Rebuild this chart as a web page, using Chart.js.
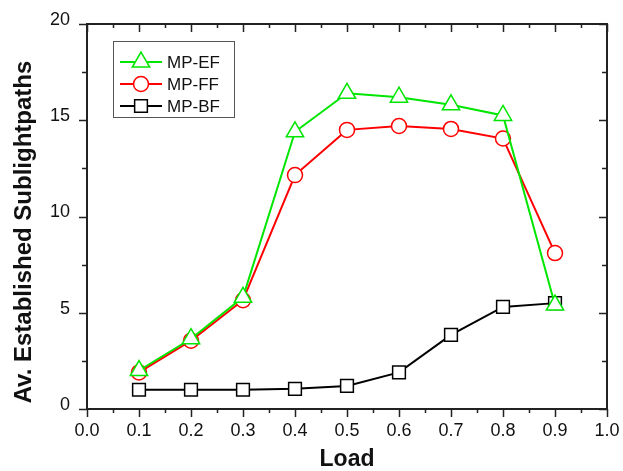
<!DOCTYPE html>
<html>
<head>
<meta charset="utf-8">
<script src="https://cdn.jsdelivr.net/npm/chart.js@4.4.0/dist/chart.umd.min.js"></script>
<style>
  html, body { margin: 0; padding: 0; background: #fff; }
  #wrap { width: 623px; height: 471px; }
</style>
</head>
<body>
<div id="wrap"><canvas id="chart" width="623" height="471"></canvas></div>
<script>
// values
var loads = [0.1, 0.2, 0.3, 0.4, 0.5, 0.6, 0.7, 0.8, 0.9];
var mpEF = [2.0, 3.65, 5.8, 14.4, 16.4, 16.2, 15.8, 15.25, 5.4];
var mpFF = [1.9, 3.55, 5.65, 12.15, 14.5, 14.7, 14.55, 14.05, 8.1];
var mpBF = [1.0, 1.0, 1.0, 1.05, 1.2, 1.9, 3.85, 5.3, 5.5];
var seriesNames = ["MP-EF", "MP-FF", "MP-BF"];
var xTicks = [0, 0.1, 0.2, 0.3, 0.4, 0.5, 0.6, 0.7, 0.8, 0.9, 1.0];
var yTicks = [0, 5, 10, 15, 20];

var axisColor = "#222";
var fontFam = "'Liberation Sans', Arial, sans-serif";

function pts(vals) {
  return loads.map(function (l, i) { return { x: l, y: vals[i] }; });
}

function drawMarker(ctx, style, r, x, y) {
  ctx.beginPath();
  if (style === "triangle") {
    ctx.moveTo(x, y - r);
    ctx.lineTo(x + r * Math.sqrt(3) / 2, y + r / 2);
    ctx.lineTo(x - r * Math.sqrt(3) / 2, y + r / 2);
    ctx.closePath();
  } else if (style === "circle") {
    ctx.arc(x, y, r, 0, Math.PI * 2);
  } else {
    var s = r * Math.SQRT1_2;
    ctx.rect(x - s, y - s, 2 * s, 2 * s);
  }
  ctx.fill();
  ctx.stroke();
}

// frame, Origin-style ticks, tick labels, y title and the boxed legend
var frameTicks = {
  id: "frameTicks",
  afterDraw: function (chart) {
    var ctx = chart.ctx, a = chart.chartArea;
    var x = chart.scales.x, y = chart.scales.y;
    ctx.save();
    ctx.strokeStyle = axisColor;
    ctx.lineWidth = 2;
    ctx.beginPath();
    ctx.moveTo(a.left, a.top);
    ctx.lineTo(a.right, a.top);
    ctx.lineTo(a.right, a.bottom);
    ctx.stroke();

    ctx.lineWidth = 1.5;
    ctx.beginPath();
    for (var i = 0; i <= 20; i++) {
      var px = Math.round(x.getPixelForValue(i * 0.05)) + 0.5;
      var len = i % 2 === 0 ? 8 : 4;
      ctx.moveTo(px, a.bottom); ctx.lineTo(px, a.bottom + len);
      ctx.moveTo(px, a.top); ctx.lineTo(px, a.top + len);
    }
    for (var j = 0; j <= 8; j++) {
      var py = Math.round(y.getPixelForValue(j * 2.5)) + 0.5;
      var len2 = j % 2 === 0 ? 8 : 5;
      ctx.moveTo(a.left - len2, py); ctx.lineTo(a.left, py);
      ctx.moveTo(a.right - len2, py); ctx.lineTo(a.right, py);
    }
    ctx.stroke();

    // tick labels
    ctx.fillStyle = "#111";
    ctx.font = "18px " + fontFam;
    ctx.textBaseline = "middle";
    ctx.textAlign = "center";
    xTicks.forEach(function (v) {
      ctx.fillText(v.toFixed(1), x.getPixelForValue(v), a.bottom + 22);
    });
    ctx.textAlign = "right";
    yTicks.forEach(function (v) {
      ctx.fillText(String(v), a.left - 17, y.getPixelForValue(v) - 4);
    });

    // y title
    ctx.save();
    ctx.translate(24, 232);
    ctx.rotate(-Math.PI / 2);
    ctx.textAlign = "center";
    ctx.font = "bold 24px " + fontFam;
    ctx.fillText("Av. Established Sublightpaths", 0, 0);
    ctx.restore();

    // legend
    ctx.lineWidth = 1;
    ctx.strokeStyle = "#555";
    ctx.strokeRect(113.5, 41.5, 121, 76);
    chart.data.datasets.forEach(function (ds, k) {
      var ly = 62 + k * 22;
      ctx.strokeStyle = ds.borderColor;
      ctx.lineWidth = 2;
      ctx.beginPath();
      ctx.moveTo(120, ly); ctx.lineTo(162, ly);
      ctx.stroke();
      ctx.fillStyle = "#fff";
      ctx.lineWidth = 1.5;
      drawMarker(ctx, ds.pointStyle, ds.pointRadius, 141, ly);
      ctx.fillStyle = "#111";
      ctx.font = "17px " + fontFam;
      ctx.textBaseline = "middle";
      ctx.textAlign = "left";
      ctx.fillText(ds.label, 167, ly + 1);
    });
    ctx.restore();
  }
};

new Chart(document.getElementById("chart"), {
  type: "line",
  data: {
    datasets: [
      {
        label: seriesNames[0], data: pts(mpEF),
        borderColor: "#00e600", backgroundColor: "#fff",
        pointStyle: "triangle", pointRadius: 10, pointBorderWidth: 1.5, borderWidth: 2
      },
      {
        label: seriesNames[1], data: pts(mpFF),
        borderColor: "#ff0000", backgroundColor: "#fff",
        pointStyle: "circle", pointRadius: 7.5, pointBorderWidth: 1.5, borderWidth: 2
      },
      {
        label: seriesNames[2], data: pts(mpBF),
        borderColor: "#000", backgroundColor: "#fff",
        pointStyle: "rect", pointRadius: 9, pointBorderWidth: 1.5, borderWidth: 2
      }
    ]
  },
  options: {
    responsive: false,
    animation: false,
    layout: { padding: { left: 0, top: 24, right: 16, bottom: 0 } },
    plugins: { legend: { display: false }, tooltip: { enabled: false } },
    elements: { line: { tension: 0 } },
    scales: {
      x: {
        type: "linear", min: 0, max: 1,
        afterFit: function (s) { s.height = 62; },
        grid: { display: false, drawTicks: false },
        border: { display: true, color: axisColor, width: 2 },
        ticks: { display: false, stepSize: 0.1 },
        title: {
          display: true, text: "Load", color: "#111", padding: 0,
          font: { family: fontFam, size: 23, weight: "bold", lineHeight: 1 }
        }
      },
      y: {
        min: 0, max: 20,
        afterFit: function (s) { s.width = 87; },
        grid: { display: false, drawTicks: false },
        border: { display: true, color: axisColor, width: 2 },
        ticks: { display: false, stepSize: 5 }
      }
    }
  },
  plugins: [frameTicks]
});
</script>
</body>
</html>
